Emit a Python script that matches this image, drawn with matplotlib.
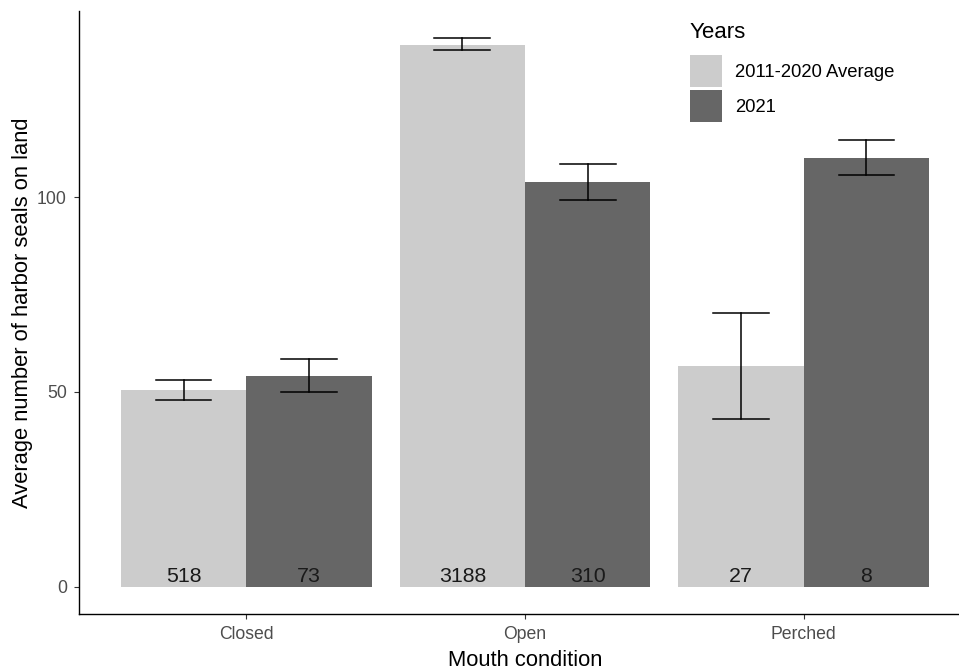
import numpy as np
import matplotlib
matplotlib.use('Agg')
import matplotlib.pyplot as plt
from matplotlib.patches import Patch

plt.rcParams['font.family'] = ['Liberation Sans', 'DejaVu Sans']

# mean seals on land per mouth condition, with +/- error bounds and survey counts
conditions = ['Closed', 'Open', 'Perched']
years = ['2011-2020 Average', '2021']
mean_avg = [50.5, 139.2, 56.7]
mean_2021 = [54.1, 103.8, 110.0]
lo_avg = [48.0, 137.7, 43.1]
hi_avg = [53.1, 140.8, 70.3]
lo_2021 = [50.0, 99.2, 105.6]
hi_2021 = [58.5, 108.5, 114.6]
n_avg = [518, 3188, 27]
n_2021 = [73, 310, 8]

COLORS = ['#CCCCCC', '#666666']
W, H = 959, 670

fig = plt.figure(figsize=(W / 100, H / 100), dpi=100)
# panel spans past the right edge, as in the source layout
ax = fig.add_axes([79 / W, (H - 614) / H, (971 - 79) / W, (614 - 11) / H])

x = np.arange(len(conditions)) + 1
bw = 0.45
series = [
    (mean_avg, lo_avg, hi_avg, n_avg),
    (mean_2021, lo_2021, hi_2021, n_2021),
]
for i, (means, lo, hi, n) in enumerate(series):
    xs = x + (i - 0.5) * bw
    ax.bar(xs, means, width=bw, color=COLORS[i], linewidth=0, zorder=1)
    for xi, m, l, h, c in zip(xs, means, lo, hi, n):
        ax.plot([xi, xi], [l, h], color='black', lw=1.1, zorder=3)
        for yy in (l, h):
            ax.plot([xi - 0.1, xi + 0.1], [yy, yy], color='black', lw=1.1, zorder=3)
        ax.text(xi, 1.3, str(c), ha='center', va='baseline',
                fontsize=15.4, color='#1a1a1a', zorder=4)

ymax = max(max(hi_avg), max(hi_2021))
ax.set_ylim(-0.05 * ymax, 1.05 * ymax)
ax.set_xlim(0.4, 3.6)
ax.set_xticks(x)
ax.set_xticklabels(conditions)
ax.set_yticks([0, 50, 100])

for side in ('top', 'right'):
    ax.spines[side].set_visible(False)
for side in ('left', 'bottom'):
    ax.spines[side].set_linewidth(1.0)
    ax.spines[side].set_color('black')
ax.tick_params(axis='both', length=3.8, width=0.8, color='#333333',
               labelcolor='#4D4D4D', labelsize=12.7, pad=5)

ax.set_xlabel('Mouth condition', fontsize=15.8, labelpad=5)
ax.set_ylabel('Average number of harbor seals on land', fontsize=15.8, labelpad=3)

# legend: title placed on its own, keys below it
fig.text(690 / W, 1 - 33 / H, 'Years', fontsize=16, ha='left', va='center')
handles = [Patch(facecolor=c, edgecolor='none') for c in COLORS]
fig.legend(handles, years, loc='upper left',
           bbox_to_anchor=(690 / W, 1 - 55 / H), frameon=False,
           fontsize=13.3, handlelength=1.75, handleheight=2.31,
           labelspacing=0.15, handletextpad=0.7,
           borderpad=0, borderaxespad=0)

fig.savefig('out.png', dpi=100)
